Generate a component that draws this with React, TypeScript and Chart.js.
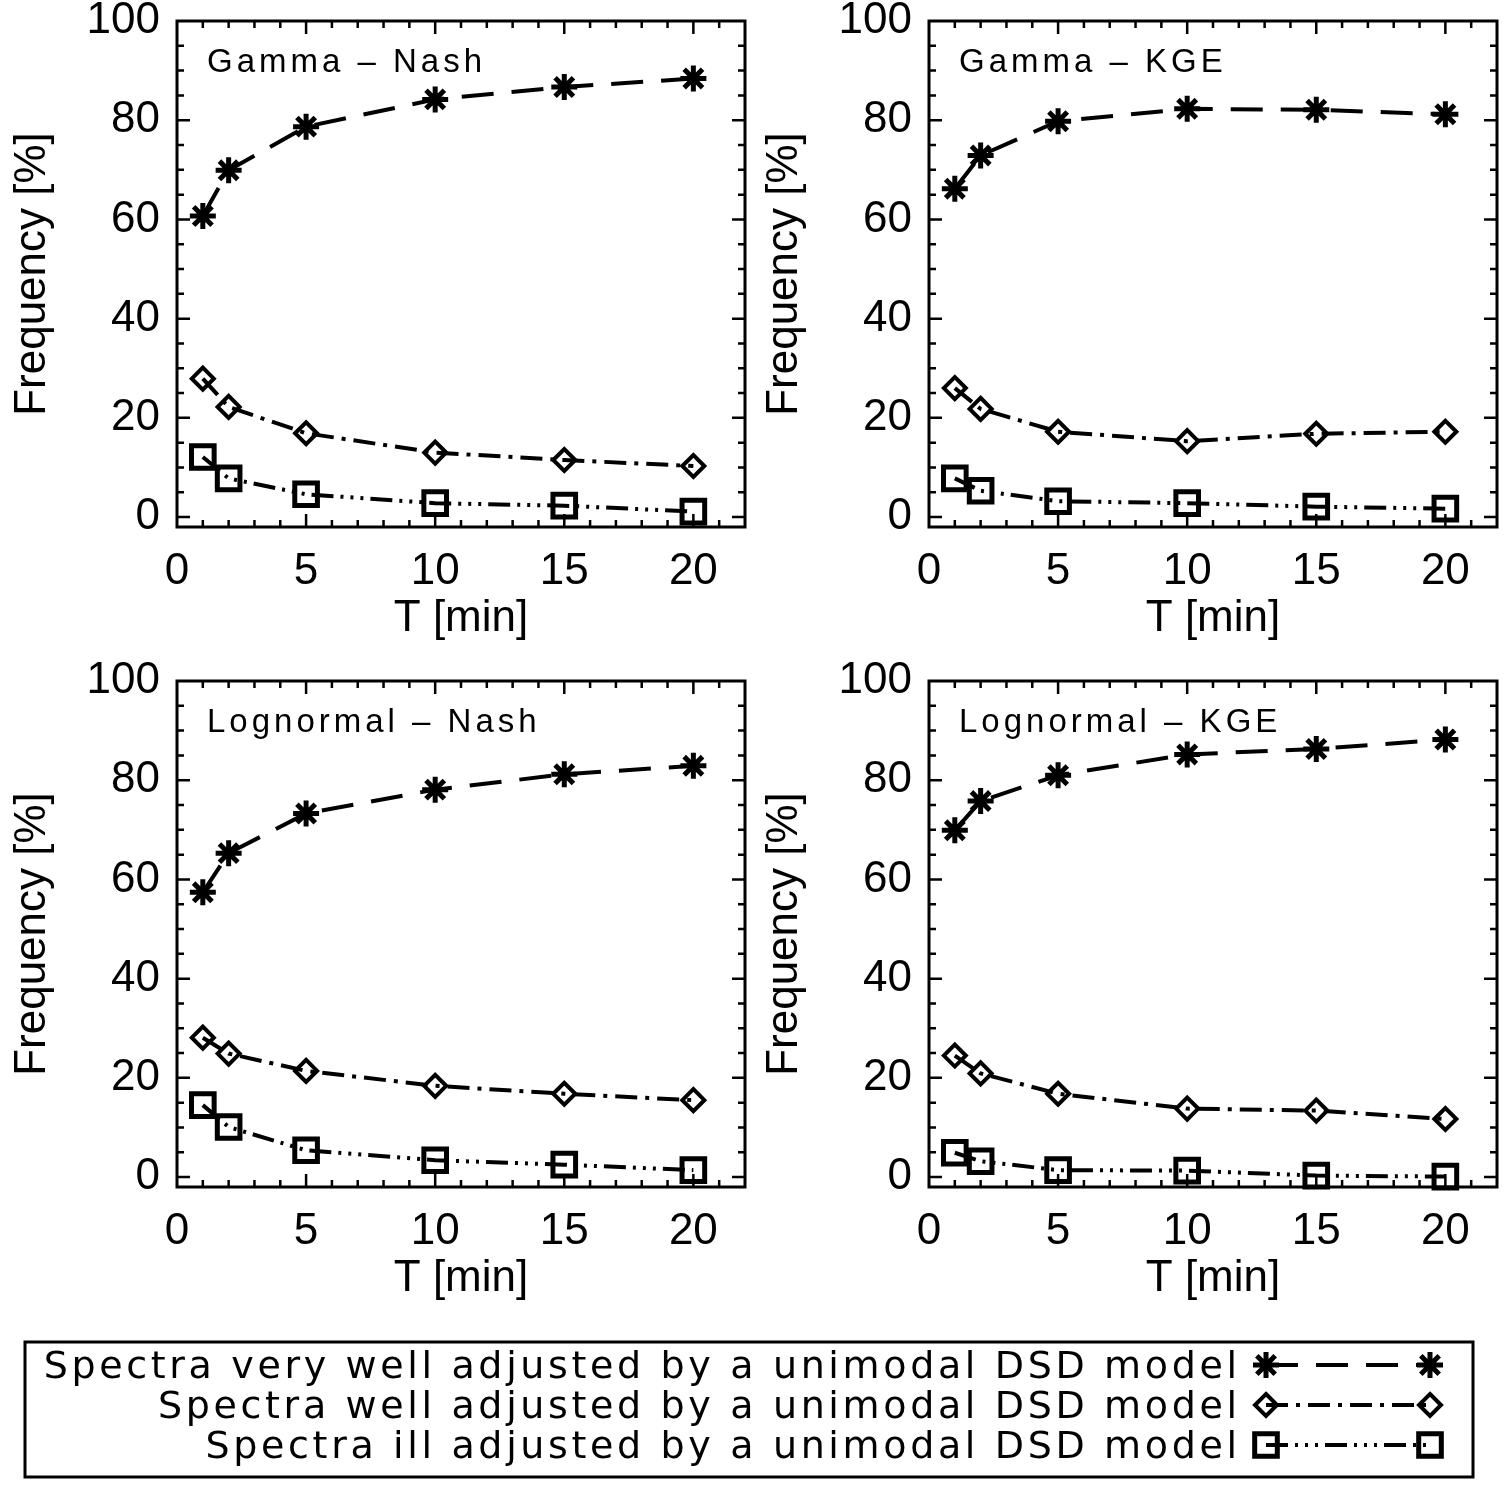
import { useEffect, useRef } from "react";
import { Chart, registerables } from "chart.js";

Chart.register(...registerables);

const FONT = "'Liberation Sans', Arial, sans-serif";
const LEGEND_FONT = "'DejaVu Sans', 'Liberation Sans', sans-serif";

// time aggregation step [min]
const T_MIN = [1, 2, 5, 10, 15, 20];
const X_TICKS = [0, 5, 10, 15, 20];
const Y_TICKS = [0, 20, 40, 60, 80, 100];

const PANEL_TITLES = ["Gamma – Nash", "Gamma – KGE", "Lognormal – Nash", "Lognormal – KGE"];
const LEGEND_LABELS = [
  "Spectra very well adjusted by a unimodal DSD model",
  "Spectra well adjusted by a unimodal DSD model",
  "Spectra ill adjusted by a unimodal DSD model",
];

// frequency [%] per panel: very well / well / ill adjusted
const gammaNashVeryWell = [60.7, 69.9, 78.7, 84.2, 86.7, 88.4];
const gammaNashWell = [27.9, 22.2, 16.9, 13.0, 11.5, 10.3];
const gammaNashIll = [12.1, 7.8, 4.6, 2.8, 2.3, 1.1];

const gammaKgeVeryWell = [66.2, 72.9, 79.8, 82.3, 82.1, 81.2];
const gammaKgeWell = [26.0, 21.8, 17.2, 15.3, 16.8, 17.2];
const gammaKgeIll = [7.8, 5.3, 3.2, 2.8, 2.1, 1.7];

const lognNashVeryWell = [57.4, 65.3, 73.3, 78.1, 81.2, 82.9];
const lognNashWell = [28.1, 24.9, 21.4, 18.4, 16.8, 15.5];
const lognNashIll = [14.5, 10.1, 5.4, 3.4, 2.5, 1.4];

const lognKgeVeryWell = [69.9, 75.8, 81.0, 85.2, 86.3, 88.2];
const lognKgeWell = [24.5, 20.9, 16.8, 13.8, 13.4, 11.7];
const lognKgeIll = [4.9, 3.2, 1.4, 1.3, 0.3, 0.1];

const PANEL_DATA = [
  [gammaNashVeryWell, gammaNashWell, gammaNashIll],
  [gammaKgeVeryWell, gammaKgeWell, gammaKgeIll],
  [lognNashVeryWell, lognNashWell, lognNashIll],
  [lognKgeVeryWell, lognKgeWell, lognKgeIll],
];

const STYLES = [
  { pointStyle: "star", radius: 13, pointWidth: 5, dash: [32, 18] },
  { pointStyle: "rectRot", radius: 11, pointWidth: 4, dash: [22, 8, 4, 8] },
  { pointStyle: "rect", radius: 16, pointWidth: 5, dash: [22, 7, 3, 7, 3, 7, 3, 7] },
];

// box + inward ticks on all four sides, plus the panel label
const framePlugin = {
  id: "frame",
  afterDraw(chart: any, _args: any, opts: any) {
    const { ctx, chartArea } = chart;
    const { left, right, top, bottom } = chartArea;
    const xs = chart.scales.x;
    const ys = chart.scales.y;
    ctx.save();
    ctx.strokeStyle = "#000";
    ctx.lineWidth = 2.5;
    ctx.beginPath();
    for (let v = 1; v < 22; v++) {
      const px = xs.getPixelForValue(v);
      const len = v % 5 === 0 ? 13 : 7;
      ctx.moveTo(px, bottom);
      ctx.lineTo(px, bottom - len);
      ctx.moveTo(px, top);
      ctx.lineTo(px, top + len);
    }
    for (let v = 0; v < 100; v += 5) {
      const py = ys.getPixelForValue(v);
      const len = v % 20 === 0 ? 13 : 7;
      ctx.moveTo(left, py);
      ctx.lineTo(left + len, py);
      ctx.moveTo(right, py);
      ctx.lineTo(right - len, py);
    }
    ctx.stroke();
    ctx.lineWidth = 3;
    ctx.strokeRect(left, top, right - left, bottom - top);
    ctx.fillStyle = "#000";
    ctx.font = `33px ${FONT}`;
    (ctx as any).letterSpacing = "4px";
    ctx.textBaseline = "alphabetic";
    ctx.textAlign = "left";
    ctx.fillText(opts.text, left + 30, top + 51);
    ctx.restore();
  },
};

function Panel({ index }: { index: number }) {
  const canvasRef = useRef<HTMLCanvasElement>(null);

  useEffect(() => {
    const canvas = canvasRef.current;
    if (!canvas) return;
    const series = PANEL_DATA[index];
    const chart = new Chart(canvas, {
      type: "line",
      data: {
        datasets: series.map((vals, i) => ({
          data: T_MIN.map((t, k) => ({ x: t, y: vals[k] })),
          borderColor: "#000",
          borderWidth: 4,
          borderDash: STYLES[i].dash,
          pointStyle: STYLES[i].pointStyle as any,
          pointRadius: STYLES[i].radius,
          pointBorderWidth: STYLES[i].pointWidth,
          pointBorderColor: "#000",
          pointBackgroundColor: "rgba(0,0,0,0)",
          tension: 0,
          fill: false,
          clip: false as any,
        })),
      },
      options: {
        animation: false,
        responsive: true,
        maintainAspectRatio: false,
        layout: { autoPadding: false, padding: { top: 21, right: 7, left: 0, bottom: 0 } },
        plugins: {
          legend: { display: false },
          tooltip: { enabled: false },
          frame: { text: PANEL_TITLES[index] },
        } as any,
        scales: {
          x: {
            type: "linear",
            min: 0,
            max: 22,
            afterBuildTicks: (s: any) => {
              s.ticks = X_TICKS.map((v) => ({ value: v }));
            },
            afterFit: (s: any) => {
              s.height = 128;
              s.paddingLeft = 0;
              s.paddingRight = 0;
            },
            grid: { display: false, drawTicks: false },
            border: { display: false },
            ticks: {
              color: "#000",
              font: { family: FONT, size: 44 },
              padding: 18,
              maxRotation: 0,
              autoSkip: false,
            },
            title: {
              display: true,
              text: "T [min]",
              color: "#000",
              font: { family: FONT, size: 44 },
              padding: { top: 0, bottom: 10 },
            },
          },
          y: {
            type: "linear",
            min: -2,
            max: 100,
            afterBuildTicks: (s: any) => {
              s.ticks = Y_TICKS.map((v) => ({ value: v }));
            },
            afterFit: (s: any) => {
              s.width = 177;
              s.paddingTop = 0;
              s.paddingBottom = 0;
            },
            grid: { display: false, drawTicks: false },
            border: { display: false },
            ticks: {
              color: "#000",
              font: { family: FONT, size: 44 },
              padding: 17,
              autoSkip: false,
            },
            title: {
              display: true,
              text: "Frequency [%]",
              color: "#000",
              font: { family: FONT, size: 44 },
              padding: { top: 6, bottom: 0 },
            },
          },
        },
      },
      plugins: [framePlugin],
    });
    return () => chart.destroy();
  }, [index]);

  const left = index % 2 === 0 ? 0 : 752;
  const top = index < 2 ? 0 : 660;
  return (
    <div style={{ position: "absolute", left, top, width: 752, height: 655 }}>
      <canvas ref={canvasRef} />
    </div>
  );
}

function drawMarker(ctx: CanvasRenderingContext2D, style: string, x: number, y: number, r: number) {
  ctx.beginPath();
  if (style === "star") {
    for (let a = 0; a < 4; a++) {
      const ang = (a * Math.PI) / 4;
      ctx.moveTo(x - Math.cos(ang) * r, y - Math.sin(ang) * r);
      ctx.lineTo(x + Math.cos(ang) * r, y + Math.sin(ang) * r);
    }
  } else if (style === "rectRot") {
    ctx.moveTo(x, y - r);
    ctx.lineTo(x + r, y);
    ctx.lineTo(x, y + r);
    ctx.lineTo(x - r, y);
    ctx.closePath();
  } else {
    const h = r * Math.SQRT1_2;
    ctx.rect(x - h, y - h, 2 * h, 2 * h);
  }
  ctx.stroke();
}

function Legend() {
  const canvasRef = useRef<HTMLCanvasElement>(null);

  useEffect(() => {
    const canvas = canvasRef.current;
    if (!canvas) return;
    const ctx = canvas.getContext("2d");
    if (!ctx) return;
    ctx.clearRect(0, 0, canvas.width, canvas.height);
    ctx.strokeStyle = "#000";
    ctx.fillStyle = "#000";
    ctx.lineWidth = 3;
    ctx.strokeRect(25, 12, 1448, 135);

    ctx.font = `38px ${LEGEND_FONT}`;
    const first = LEGEND_LABELS[0];
    const w0 = ctx.measureText(first).width;
    const spacing = Math.max(0, (1197 - w0) / first.length);
    (ctx as any).letterSpacing = `${spacing}px`;
    ctx.textAlign = "right";
    ctx.textBaseline = "alphabetic";
    const baselines = [48, 88, 128];
    LEGEND_LABELS.forEach((label, i) => {
      ctx.fillText(label, 1237 + spacing, baselines[i]);
      const y = baselines[i] - 13;
      ctx.save();
      ctx.lineWidth = 4;
      ctx.setLineDash(STYLES[i].dash);
      ctx.beginPath();
      ctx.moveTo(1266, y);
      ctx.lineTo(1430, y);
      ctx.stroke();
      ctx.restore();
      ctx.lineWidth = STYLES[i].pointWidth;
      drawMarker(ctx, STYLES[i].pointStyle, 1266, y, STYLES[i].radius);
      drawMarker(ctx, STYLES[i].pointStyle, 1430, y, STYLES[i].radius);
    });
  }, []);

  return (
    <canvas
      ref={canvasRef}
      width={1510}
      height={159}
      style={{ position: "absolute", left: 0, top: 1330, display: "block" }}
    />
  );
}

export default function App() {
  return (
    <div
      style={{
        position: "absolute",
        left: 0,
        top: 0,
        width: 1510,
        height: 1489,
        background: "#fff",
        overflow: "hidden",
      }}
    >
      {[0, 1, 2, 3].map((i) => (
        <Panel key={i} index={i} />
      ))}
      <Legend />
    </div>
  );
}
